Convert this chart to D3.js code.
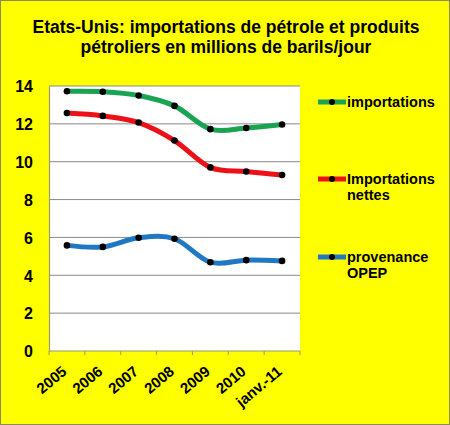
<!DOCTYPE html>
<html>
<head>
<meta charset="utf-8">
<script src="https://cdn.jsdelivr.net/npm/d3@7"></script>
<style>
  body { margin: 0; background: #fff; }
  svg text { font-family: "Liberation Sans", Arial, sans-serif; font-weight: bold; fill: #000; }
</style>
</head>
<body>
<div id="chart"></div>
<script>
// data
const categories = ["2005", "2006", "2007", "2008", "2009", "2010", "janv.-11"];
const importations = [13.72, 13.7, 13.5, 12.95, 11.72, 11.78, 11.97];
const importationsNettes = [12.57, 12.42, 12.07, 11.12, 9.7, 9.48, 9.3];
const provenanceOpep = [5.58, 5.5, 5.98, 5.93, 4.69, 4.8, 4.76];
const yTicks = [0, 2, 4, 6, 8, 10, 12, 14];
const titleLines = ["Etats-Unis: importations de pétrole et produits", "pétroliers en millions de barils/jour"];

const series = [
    {name: ["importations"], values: importations, color: "#19a352", legendY: 107},
    {name: ["Importations", "nettes"], values: importationsNettes, color: "#ec1118", legendY: 184},
    {name: ["provenance", "OPEP"], values: provenanceOpep, color: "#1f78c1", legendY: 262}
];

const W = 450, H = 425;
const margin = {top: 86, right: 150, bottom: 74, left: 49};
const width = W - margin.left - margin.right;
const height = H - margin.top - margin.bottom;

const svg = d3.select("#chart").append("svg")
    .attr("width", W)
    .attr("height", H);

// yellow chart area with thin border
svg.append("rect")
    .attr("x", 0.5).attr("y", 0.5)
    .attr("width", W - 1).attr("height", H - 1)
    .attr("fill", "#ffff00")
    .attr("stroke", "#8c8c5a");

// title
svg.append("g").selectAll("text")
    .data(titleLines)
    .join("text")
    .attr("x", 226)
    .attr("y", (d, i) => 33 + i * 20)
    .attr("text-anchor", "middle")
    .style("font-size", "17.5px")
    .text(d => d);

const g = svg.append("g")
    .attr("transform", "translate(" + margin.left + "," + margin.top + ")");

const xScale = d3.scaleBand().domain(categories).range([0, width]);
const yScale = d3.scaleLinear().domain([0, 14]).range([height, 0]);

// plot area
g.append("rect")
    .attr("width", width).attr("height", height)
    .attr("fill", "#fff");

// gridlines
g.append("g").selectAll("line")
    .data(yTicks.filter(d => d > 0))
    .join("line")
    .attr("x1", 0).attr("x2", width)
    .attr("y1", d => yScale(d)).attr("y2", d => yScale(d))
    .attr("stroke", "#8a8a8a")
    .attr("stroke-width", 1);

// y axis
const yAxisG = g.append("g")
    .call(d3.axisLeft(yScale).tickValues(yTicks).tickSize(0).tickPadding(16));
yAxisG.select(".domain").attr("stroke", "#9a9a6a").attr("stroke-width", 1.2);
yAxisG.selectAll("text")
    .style("font-size", "16px")
    .style("font-family", "'Liberation Sans', Arial, sans-serif")
    .attr("dy", "0.36em");

// x axis, ticks at category boundaries
const xAxisG = g.append("g")
    .attr("transform", "translate(0," + height + ")");
xAxisG.append("line")
    .attr("x1", 0).attr("x2", width)
    .attr("stroke", "#9a9a6a").attr("stroke-width", 1.2);
xAxisG.selectAll(".tickB")
    .data(d3.range(categories.length + 1))
    .join("line")
    .attr("class", "tickB")
    .attr("x1", i => i * xScale.bandwidth())
    .attr("x2", i => i * xScale.bandwidth())
    .attr("y1", 0).attr("y2", 4)
    .attr("stroke", "#9a9a6a");
xAxisG.selectAll(".xLabel")
    .data(categories)
    .join("text")
    .attr("class", "xLabel")
    .attr("text-anchor", "end")
    .attr("transform", d => "translate(" + (xScale(d) + xScale.bandwidth() / 2 - 6) + ",14) rotate(-40)")
    .attr("dy", "0.7em")
    .style("font-size", "15px")
    .text(d => d);

// lines
const line = d3.line()
    .x((d, i) => xScale(categories[i]) + xScale.bandwidth() / 2)
    .y(d => yScale(d))
    .curve(d3.curveCatmullRom.alpha(0));

series.forEach(s => {
    g.append("path")
        .datum(s.values)
        .attr("d", line)
        .attr("fill", "none")
        .attr("stroke", s.color)
        .attr("stroke-width", 5)
        .attr("stroke-linejoin", "round");
    g.append("g").selectAll("circle")
        .data(s.values)
        .join("circle")
        .attr("cx", (d, i) => xScale(categories[i]) + xScale.bandwidth() / 2)
        .attr("cy", d => yScale(d))
        .attr("r", 3.3)
        .attr("fill", "#000");
});

// legend
const legend = svg.append("g");
series.forEach(s => {
    const lg = legend.append("g").attr("transform", "translate(318," + s.legendY + ")");
    lg.append("line")
        .attr("x1", 0).attr("x2", 28)
        .attr("y1", -5).attr("y2", -5)
        .attr("stroke", s.color)
        .attr("stroke-width", 5);
    lg.append("circle").attr("cx", 14).attr("cy", -5).attr("r", 3).attr("fill", "#000");
    lg.selectAll("text")
        .data(s.name)
        .join("text")
        .attr("x", 29)
        .attr("y", (d, i) => i * 16)
        .style("font-size", "14.5px")
        .text(d => d);
});
</script>
</body>
</html>
